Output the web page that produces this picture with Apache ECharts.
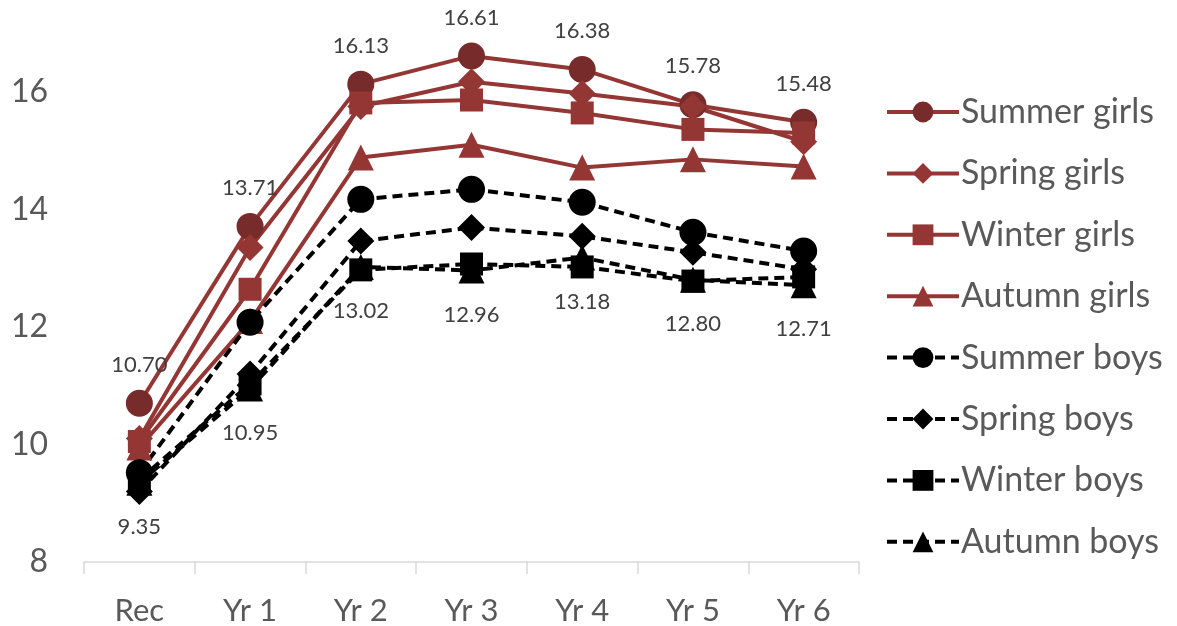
<!DOCTYPE html>
<html><head><meta charset="utf-8">
<script src="https://cdn.jsdelivr.net/npm/echarts@6/dist/echarts.min.js"></script>
<style>html,body{margin:0;padding:0;background:#fff}#c{width:1177px;height:626px}</style>
</head><body><div id="c"></div>
<script>
const categories = ['Rec','Yr 1','Yr 2','Yr 3','Yr 4','Yr 5','Yr 6'];
const summerGirls = [10.70, 13.71, 16.13, 16.61, 16.38, 15.78, 15.48];
const springGirls = [10.10, 13.35, 15.75, 16.17, 15.97, 15.75, 15.15];
const winterGirls = [10.05, 12.64, 15.81, 15.86, 15.64, 15.36, 15.30];
const autumnGirls = [9.95, 12.10, 14.88, 15.10, 14.71, 14.85, 14.73];
const summerBoys = [9.52, 12.08, 14.17, 14.34, 14.12, 13.61, 13.29];
const springBoys = [9.20, 11.20, 13.46, 13.69, 13.54, 13.27, 12.98];
const winterBoys = [9.40, 11.03, 12.97, 13.07, 13.02, 12.78, 12.85];
const autumnBoys = [9.35, 10.95, 13.02, 12.96, 13.18, 12.80, 12.71];
const yTicks = [8, 10, 12, 14, 16];

const RED = '#943634', DARKRED = '#772b2a', BLACK = '#000000';
const FONT = 'Lato';
function mk(name, data, girls, symbol, size, extra) {
  return Object.assign({
    name, type: 'line', data, symbol, symbolSize: size,
    lineStyle: { color: girls ? RED : BLACK, width: 4, type: girls ? 'solid' : [10, 6] },
    itemStyle: { color: girls ? RED : BLACK },
    emphasis: { disabled: true }, animation: false
  }, extra || {});
}
const lbl = (pos, d) => ({ show: true, position: pos, distance: d, fontFamily: FONT, fontSize: 22, color: '#404040', formatter: p => p.value.toFixed(2) });

const series = [
  mk('Summer girls', summerGirls, true, 'circle', 27, { itemStyle: { color: DARKRED }, label: lbl('top', 14) }),
  mk('Spring girls', springGirls, true, 'diamond', 27),
  mk('Winter girls', winterGirls, true, 'rect', 23),
  mk('Autumn girls', autumnGirls, true, 'triangle', 26),
  mk('Summer boys', summerBoys, false, 'circle', 27),
  mk('Spring boys', springBoys, false, 'diamond', 27),
  mk('Winter boys', winterBoys, false, 'rect', 23),
  mk('Autumn boys', autumnBoys, false, 'triangle', 26, { label: lbl('bottom', 20) })
];

const chart = echarts.init(document.getElementById('c'), null, { renderer: 'canvas' });
chart.setOption({
  backgroundColor: '#fff',
  animation: false,
  grid: { left: 84, right: 318, top: 33, bottom: 62, containLabel: false },
  legend: {
    orient: 'vertical', left: 880, top: 89,
    itemWidth: 72, itemHeight: 26, itemGap: 25.4,
    lineStyle: { width: 4 },
    textStyle: { fontFamily: FONT, fontSize: 34, lineHeight: 36, color: '#595959', padding: [0, 0, 0, -3] },
    data: series.map(s => s.name)
  },
  xAxis: {
    type: 'category', data: categories, boundaryGap: true,
    axisLine: { lineStyle: { color: '#d9d9d9', width: 1.5 } },
    axisTick: { show: true, alignWithLabel: false, length: 12, lineStyle: { color: '#d9d9d9', width: 1.5 } },
    axisLabel: { fontFamily: FONT, fontSize: 31, color: '#595959', margin: 33 }
  },
  yAxis: {
    type: 'value', min: 8, max: 17, interval: 2,
    axisLine: { show: false }, axisTick: { show: false }, splitLine: { show: false },
    axisLabel: { fontFamily: FONT, fontSize: 32, color: '#595959', margin: 36, showMaxLabel: false,
      formatter: v => (yTicks.indexOf(v) >= 0 ? String(v) : '') }
  },
  series
});
</script></body></html>
